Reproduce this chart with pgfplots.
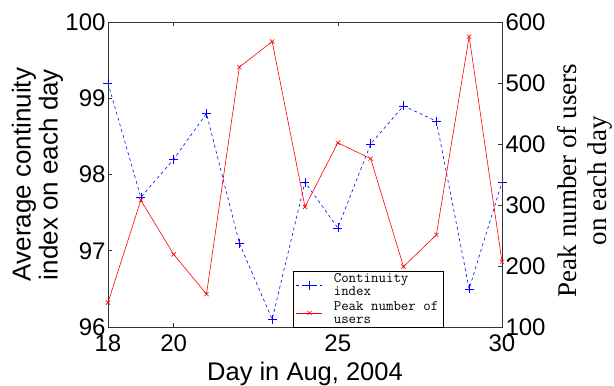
\documentclass[border=0pt]{standalone}
\usepackage{fontspec}
\setmainfont{Liberation Sans}
\newfontfamily\seriffont{Liberation Serif}
\usepackage{pgfplots}
\pgfplotsset{compat=1.18}
\definecolor{axgray}{gray}{0.2}
\begin{document}
\begin{tikzpicture}[x=1pt,y=1pt]
\useasboundingbox (0,0) rectangle (614,386);
\begin{axis}[
  at={(108pt,59pt)}, anchor=south west,
  scale only axis, width=394pt, height=305pt,
  xmin=18, xmax=30, ymin=96, ymax=100,
  xtick={18,20,25,30}, ytick={96,97,98,99,100},
  tick align=inside, xtick pos=both, ytick pos=left,
  major tick length=4pt,
  axis line style={axgray}, tick style={axgray, line width=0.5pt},
  /pgf/number format/assume math mode=true,
  tick label style={font=\fontsize{24}{24}\selectfont},
  xticklabel style={yshift=-4pt},
  yticklabel style={xshift=1pt},
  xlabel={Day in Aug, 2004},
  xlabel style={font=\fontsize{25.5}{27}\selectfont, at={(axis description cs:0.5,-0.174)}, anchor=base},
  ylabel={Average continuity\\index on each day},
  ylabel style={font=\fontsize{26}{27}\selectfont, align=center, at={(axis description cs:-0.179,0.5)}, anchor=center},
  clip=false,
]
\addplot[blue, line width=0.6pt, dash pattern=on 3pt off 3pt, mark=+, mark size=4.5pt, mark options={solid, blue}]
coordinates {(18,99.2)(19,97.7)(20,98.2)(21,98.8)(22,97.1)(23,96.1)(24,97.9)(25,97.3)(26,98.4)(27,98.9)(28,98.7)(29,96.5)(30,97.9)};
\end{axis}
\begin{axis}[
  at={(108pt,59pt)}, anchor=south west,
  scale only axis, width=394pt, height=305pt,
  xmin=18, xmax=30, ymin=100, ymax=600,
  axis x line=none, axis y line*=right,
  ytick={100,200,300,400,500,600},
  tick align=inside, major tick length=4pt,
  axis line style={axgray}, tick style={axgray, line width=0.5pt},
  /pgf/number format/assume math mode=true,
  tick label style={font=\fontsize{24}{24}\selectfont},
  ylabel={\seriffont Peak number of users\\\seriffont on each day},
  ylabel style={font=\fontsize{27}{30}\selectfont, align=center, at={(axis description cs:1.211,0.48)}, anchor=center},
  clip=false,
  legend style={at={(axis description cs:0.4695,0)}, anchor=south west, draw=black, fill=white,
    font=\ttfamily\fontsize{14.5}{13.2}\selectfont, cells={align=left}, inner xsep=3pt, inner ysep=0pt,
    row sep=0pt, column sep=9pt, legend cell align=left},
  legend image code/.code={\draw[mark repeat=2,mark phase=2,#1] plot coordinates {(0pt,0pt)(13pt,0pt)(26pt,0pt)};},
]
\addlegendimage{draw=blue, color=blue, line width=0.6pt, dash pattern=on 3pt off 3pt, mark=+, mark size=4.5pt, mark options={solid, draw=blue}}
\addlegendentry{Continuity\\index}
\addplot[red, line width=0.6pt, mark=x, mark size=3pt, mark options={red}]
coordinates {(18,140)(19,308)(20,219)(21,154)(22,526)(23,568)(24,297)(25,402)(26,376)(27,199)(28,251)(29,576)(30,207)};
\addlegendentry{Peak number of\hspace{5pt}\\users}
\end{axis}
\end{tikzpicture}
\end{document}
